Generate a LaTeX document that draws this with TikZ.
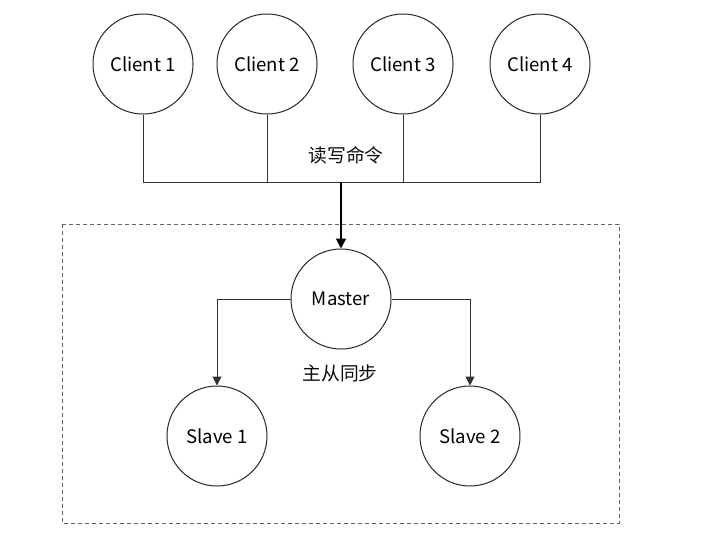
\documentclass[tikz,border=0pt]{standalone}
\usepackage{fontspec}
\setmainfont{Noto Sans CJK SC}
\usetikzlibrary{arrows.meta}
\begin{document}
\begin{tikzpicture}[x=1pt,y=-1pt,
  nodecirc/.style={circle,draw=black!85,line width=1pt,minimum size=100pt,inner sep=0pt,font=\fontsize{18.6}{20}\selectfont,text=black},
  lbl/.style={font=\fontsize{18.8}{20}\selectfont,text=black!95,inner sep=0pt},
  conn/.style={draw=black!80,line width=1pt},
  arr/.style={conn,-{Triangle[width=9pt,length=9pt]}},
  bigarr/.style={draw=black,line width=1.8pt,-{Triangle[width=10pt,length=10pt]}},
  boxline/.style={draw=black!60,line width=1pt,dash pattern=on 4pt off 3pt}]
\useasboundingbox (0,0) rectangle (705,539);
\node[nodecirc] (c1) at (143,64) {Client 1};
\node[nodecirc] (c2) at (267,64) {Client 2};
\node[nodecirc] (c3) at (403,64) {Client 3};
\node[nodecirc] (c4) at (540,64) {Client 4};
\node[nodecirc] (m) at (341,299) {Master};
\node[nodecirc] (s1) at (217,436) {Slave 1};
\node[nodecirc] (s2) at (470,436) {Slave 2};
\coordinate (b1) at (143,182);
\coordinate (b4) at (540,182);
\coordinate (bm) at (341,182);
\draw[boxline] (62,224) rectangle (619,523);
\draw[conn] (c1.south) -- (b1) -- (b4) -- (c4.south);
\draw[conn] (c2.south) -- (c2.south |- b1);
\draw[conn] (c3.south) -- (c3.south |- b1);
\draw[bigarr] (bm) -- (m.north);
\draw[arr] (m.west) -| (s1.north);
\draw[arr] (m.east) -| (s2.north);
\node[lbl] (l1) at (346,155) {读写命令};
\node[lbl] (l2) at (340,373) {主从同步};
\end{tikzpicture}
\end{document}
